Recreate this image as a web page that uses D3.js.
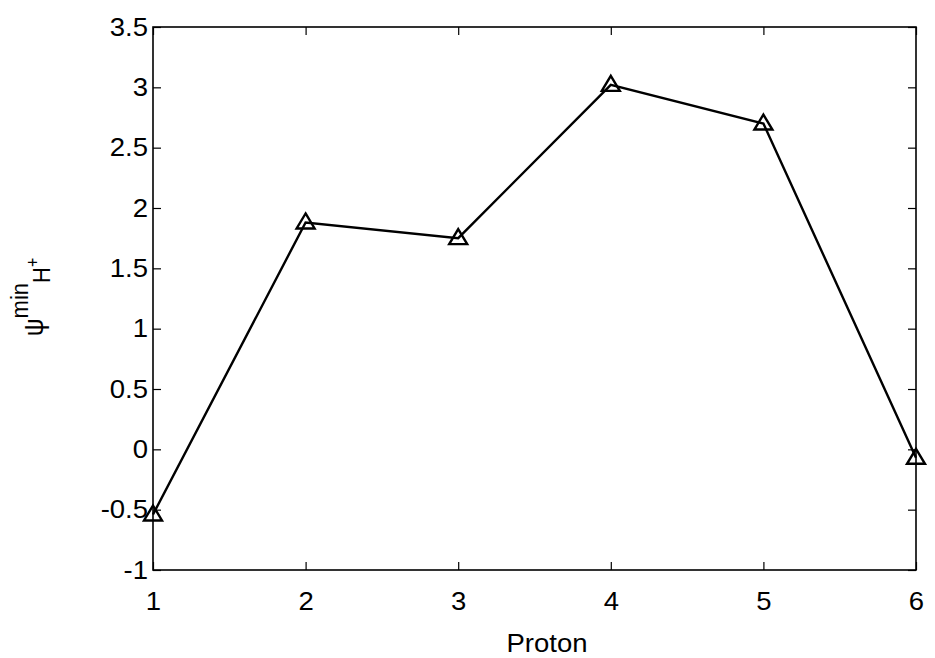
<!DOCTYPE html>
<html>
<head>
<meta charset="utf-8">
<script src="https://cdn.jsdelivr.net/npm/d3@7"></script>
<style>
  body { margin: 0; background: #fff; }
  svg text { font-family: "Liberation Sans", Arial, sans-serif; fill: #000; }
</style>
</head>
<body>
<div id="chart"></div>
<script>
// values
const protons = [1, 2, 3, 4, 5, 6];
const psiMin = [-0.54, 1.88, 1.75, 3.02, 2.70, -0.07];
const xTicks = [1, 2, 3, 4, 5, 6];
const yTicks = [-1, -0.5, 0, 0.5, 1, 1.5, 2, 2.5, 3, 3.5];

const width = 935, height = 658;
const margin = { top: 27, right: 19, bottom: 88, left: 153 };
const fontSize = 25;
const stretch = 1.1; // the original figure was widened a little

const svg = d3.select('#chart').append('svg')
  .attr('width', width)
  .attr('height', height);

const x = d3.scaleLinear().domain([1, 6]).range([margin.left, width - margin.right]);
const y = d3.scaleLinear().domain([-1, 3.5]).range([height - margin.bottom, margin.top]);

// frame
svg.append('rect')
  .attr('x', x(1)).attr('y', y(3.5))
  .attr('width', x(6) - x(1)).attr('height', y(-1) - y(3.5))
  .attr('fill', 'none').attr('stroke', '#000').attr('stroke-width', 1.6);

// axes with inward ticks
let xAxis = svg.append('g')
  .attr('transform', 'translate(0,' + y(-1) + ')')
  .call(d3.axisBottom(x).tickValues(xTicks).tickSizeInner(-8).tickSizeOuter(0).tickPadding(22).tickFormat(d3.format('d')));

let xAxisTop = svg.append('g')
  .attr('transform', 'translate(0,' + y(3.5) + ')')
  .call(d3.axisTop(x).tickValues(xTicks).tickSizeInner(-8).tickSizeOuter(0).tickFormat(''));

let yAxis = svg.append('g')
  .attr('transform', 'translate(' + x(1) + ',0)')
  .call(d3.axisLeft(y).tickValues(yTicks).tickSizeInner(-8).tickSizeOuter(0).tickPadding(5).tickFormat(d => String(d)));

let yAxisRight = svg.append('g')
  .attr('transform', 'translate(' + x(6) + ',0)')
  .call(d3.axisRight(y).tickValues(yTicks).tickSizeInner(-8).tickSizeOuter(0).tickFormat(''));

[xAxis, xAxisTop, yAxis, yAxisRight].forEach(g => {
  g.select('.domain').remove();
  g.selectAll('line').attr('stroke', '#000').attr('stroke-width', 1.2);
  g.selectAll('text')
    .attr('font-size', fontSize)
    .attr('font-family', '"Liberation Sans", Arial, sans-serif')
    .each(function() {
      let t = d3.select(this);
      let tx = +t.attr('x') || 0;
      t.attr('x', 0).attr('transform', 'translate(' + tx + ',0) scale(' + stretch + ',1)');
    });
});

// data line
const points = protons.map((p, i) => [p, psiMin[i]]);

svg.append('path')
  .datum(points)
  .attr('fill', 'none')
  .attr('stroke', '#000')
  .attr('stroke-width', 2.4)
  .attr('d', d3.line().x(d => x(d[0])).y(d => y(d[1])));

// triangle markers
svg.selectAll('.marker')
  .data(points)
  .enter().append('path')
  .attr('class', 'marker')
  .attr('transform', d => 'translate(' + x(d[0]) + ',' + y(d[1]) + ')')
  .attr('d', 'M0,-9L9,6L-9,6Z')
  .attr('fill', 'none')
  .attr('stroke', '#000')
  .attr('stroke-width', 2.4);

// axis labels
svg.append('text')
  .attr('transform', 'translate(547,652) scale(' + stretch + ',1)')
  .attr('text-anchor', 'middle')
  .attr('font-size', fontSize)
  .text('Proton');

let yLabel = svg.append('text')
  .attr('transform', 'translate(43,297) rotate(-90) scale(1,' + stretch + ')')
  .attr('text-anchor', 'middle')
  .attr('font-size', fontSize);

yLabel.append('tspan').text('ψ');
yLabel.append('tspan').attr('dy', -14).attr('font-size', 22).text('min');
yLabel.append('tspan').attr('dy', 20).attr('font-size', 22).text('H');
yLabel.append('tspan').attr('dy', -10).attr('font-size', 16).text('+');
</script>
</body>
</html>
